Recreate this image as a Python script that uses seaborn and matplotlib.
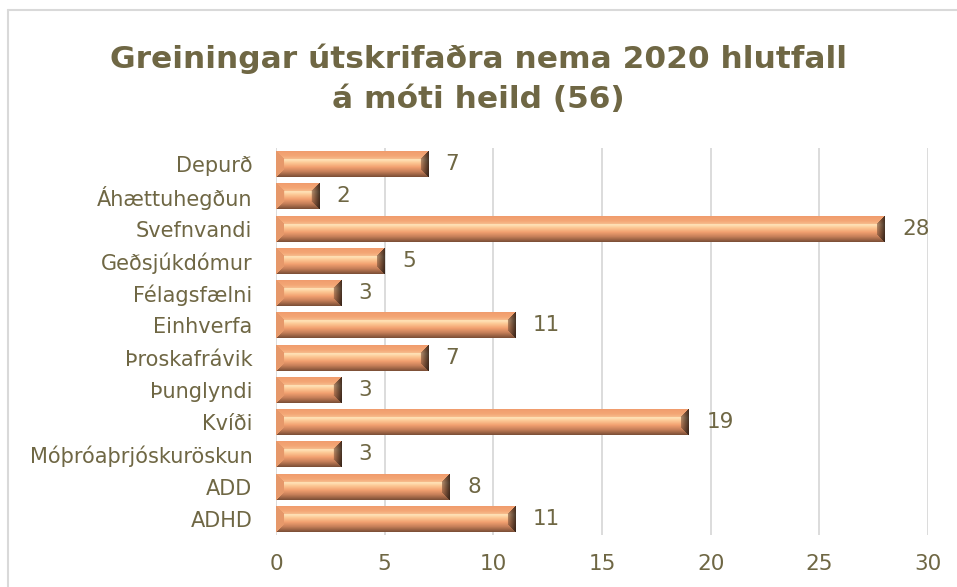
import matplotlib
matplotlib.use("Agg")
import matplotlib.pyplot as plt
import numpy as np
import pandas as pd
import seaborn as sns
from matplotlib.lines import Line2D

# Data
categories = ["Depurð", "Áhættuhegðun", "Svefnvandi", "Geðsjúkdómur", "Félagsfælni",
              "Einhverfa", "Þroskafrávik", "Þunglyndi", "Kvíði",
              "Móþróaþrjóskuröskun", "ADD", "ADHD"]
counts = [7, 2, 28, 5, 3, 11, 7, 3, 19, 3, 8, 11]
x_ticks = [0, 5, 10, 15, 20, 25, 30]

df = pd.DataFrame({"Greining": categories, "Fjöldi": counts})

text_color = "#6f6744"
grid_color = "#d9d9d9"

sns.set_theme(style="white")
plt.rcParams["font.family"] = ["DejaVu Sans"]

fig = plt.figure(figsize=(9.57, 5.87), dpi=100)
ax = fig.add_axes([276 / 957, 1 - 535 / 587, (928 - 276) / 957, (535 - 148) / 587])

bar_h = 0.8
sns.barplot(data=df, y="Greining", x="Fjöldi", orient="h", color="#f2a071",
            width=bar_h, ax=ax, zorder=3)


def bevel_image(w_px, h_px, b=8):
    # fake excel bevel: vertical shading plus darker right / bottom facets
    rows, cols = np.mgrid[0:h_px, 0:w_px]
    d_top = rows
    d_bot = h_px - 1 - rows
    d_left = cols
    d_right = w_px - 1 - cols
    t = rows / max(h_px - 1, 1)
    stops = [0.0, 0.18, 0.33, 0.45, 0.62, 0.8, 1.0]
    prof = np.array([[0.94, 0.60, 0.42], [0.96, 0.68, 0.48], [1.0, 0.89, 0.72],
                     [0.99, 0.78, 0.58], [0.95, 0.63, 0.44], [0.78, 0.50, 0.35],
                     [0.50, 0.32, 0.22]])
    img = np.zeros((h_px, w_px, 3))
    for k in range(3):
        img[..., k] = np.interp(t, stops, prof[:, k])
    m = np.minimum(np.minimum(d_top, d_bot), np.minimum(d_left, d_right))
    edge = m < b
    right = edge & (d_right == m)
    left = edge & (d_left == m) & ~right
    top = edge & (d_top == m) & ~right & ~left
    base = np.array([0.95, 0.63, 0.44])
    img[left] = base * 0.95
    img[top] = img[top] * 0.5 + base * 0.5
    fac = 0.3 + 0.45 * (d_right / b)
    img[right] = img[right] * 0.5 * fac[right][:, None] + 0.5 * fac[right][:, None] * base
    return np.clip(img, 0, 1)


px_per_unit = (928 - 276) / 30
for patch in ax.patches:
    x0, y0 = patch.get_x(), patch.get_y()
    w, h = patch.get_width(), patch.get_height()
    img = bevel_image(max(int(round(w * px_per_unit)), 10), 26)
    ax.imshow(img, extent=(x0, x0 + w, y0 + h, y0), origin="upper", aspect="auto",
              zorder=4, interpolation="bilinear")
    patch.set_edgecolor("none")

for i, v in enumerate(counts):
    ax.text(v + 0.8, i, str(v), va="center", ha="left", fontsize=15.5, color=text_color)

ax.set_xlim(0, 30)
ax.set_ylim(len(categories) - 0.5, -0.5)
ax.set_xticks(x_ticks)
ax.set_xticklabels([str(t) for t in x_ticks])
ax.grid(axis="x", color=grid_color, linewidth=1.3, zorder=0)
ax.grid(axis="y", visible=False)
for s in ax.spines.values():
    s.set_visible(False)
ax.set_xlabel("")
ax.set_ylabel("")
ax.tick_params(axis="x", length=0, pad=14, labelsize=15.5, labelcolor=text_color)
ax.tick_params(axis="y", length=0, pad=17, labelsize=15, labelcolor=text_color)

fig.text(0.5, 1 - 79 / 587, "Greiningar útskrifaðra nema 2020 hlutfall\ná móti heild (56)",
         ha="center", va="center", fontsize=22.5, fontweight="bold", color=text_color,
         linespacing=1.5)

# chart frame (top and left edges)
fig.add_artist(Line2D([8 / 957, 1], [1 - 10 / 587] * 2, color=grid_color, lw=1.5,
                      transform=fig.transFigure))
fig.add_artist(Line2D([8 / 957] * 2, [0, 1 - 10 / 587], color=grid_color, lw=1.5,
                      transform=fig.transFigure))

fig.savefig("out.png", dpi=100)
